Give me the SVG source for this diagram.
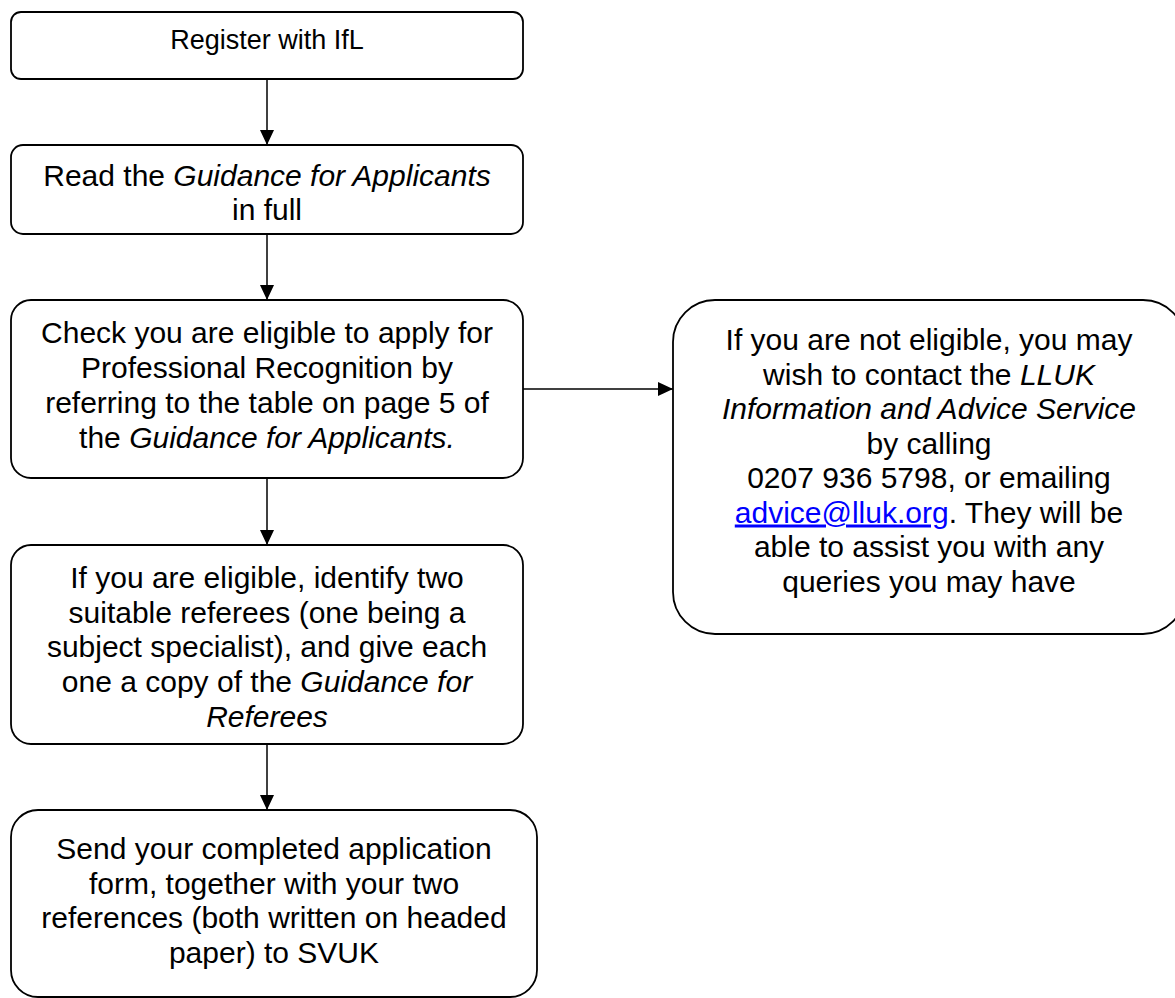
<svg xmlns="http://www.w3.org/2000/svg" width="1175" height="998" viewBox="0 0 1175 998">
  <style>
    .box { fill: #ffffff; stroke: #000000; stroke-width: 1.8; }
    .conn { fill: none; stroke: #000000; stroke-width: 1.5; }
    .t { font-family: "Liberation Sans", Arial, sans-serif; font-size: 30px; fill: #000000; text-anchor: middle; }
    .i { font-style: italic; }
    .link { fill: #0000ff; text-decoration: underline; }
  </style>
  <defs>
    <marker id="arrow" markerUnits="userSpaceOnUse" markerWidth="15" markerHeight="14" refX="15" refY="7" orient="auto">
      <path d="M0,0 L15,7 L0,14 Z" fill="#000000"/>
    </marker>
  </defs>
  <rect width="1175" height="998" fill="#ffffff"/>

  <g id="connectors">
    <line class="conn" x1="267" y1="79" x2="267" y2="145" marker-end="url(#arrow)"/>
    <line class="conn" x1="267" y1="234" x2="267" y2="300" marker-end="url(#arrow)"/>
    <line class="conn" x1="267" y1="478" x2="267" y2="545" marker-end="url(#arrow)"/>
    <line class="conn" x1="267" y1="745" x2="267" y2="810" marker-end="url(#arrow)"/>
    <line class="conn" x1="523" y1="389" x2="673" y2="389" marker-end="url(#arrow)"/>
  </g>

  <g id="register">
    <rect class="box" x="11" y="12" width="512" height="67" rx="10" ry="10"/>
    <text class="t" x="267" y="49.3" style="font-size:27px">Register with IfL</text>
  </g>

  <g id="read-guidance">
    <rect class="box" x="11" y="145" width="512" height="89" rx="12" ry="12"/>
    <text class="t" x="267" y="185.5">Read the <tspan class="i">Guidance for Applicants</tspan></text>
    <text class="t" x="267" y="220.3">in full</text>
  </g>

  <g id="check-eligible">
    <rect class="box" x="11" y="300" width="512" height="178" rx="20" ry="20"/>
    <text class="t" x="267" y="343.3">Check you are eligible to apply for</text>
    <text class="t" x="267" y="378.3">Professional Recognition by</text>
    <text class="t" x="267" y="413.3">referring to the table on page 5 of</text>
    <text class="t" x="267" y="447.5">the <tspan class="i">Guidance for Applicants.</tspan></text>
  </g>

  <g id="identify-referees">
    <rect class="box" x="11" y="545" width="512" height="199" rx="20" ry="20"/>
    <text class="t" x="267" y="588">If you are eligible, identify two</text>
    <text class="t" x="267" y="622.5">suitable referees (one being a</text>
    <text class="t" x="267" y="657">subject specialist), and give each</text>
    <text class="t" x="267" y="691.7">one a copy of the <tspan class="i">Guidance for</tspan></text>
    <text class="t" x="267" y="726.5" font-style="italic">Referees</text>
  </g>

  <g id="send-application">
    <rect class="box" x="11" y="810" width="526" height="187" rx="27" ry="27"/>
    <text class="t" x="274" y="859">Send your completed application</text>
    <text class="t" x="274" y="893.5">form, together with your two</text>
    <text class="t" x="274" y="928">references (both written on headed</text>
    <text class="t" x="274" y="962.5">paper) to SVUK</text>
  </g>

  <g id="not-eligible">
    <rect class="box" x="673" y="300" width="512" height="334" rx="42" ry="42"/>
    <text class="t" x="929" y="350">If you are not eligible, you may</text>
    <text class="t" x="929" y="384.5">wish to contact the <tspan class="i">LLUK</tspan></text>
    <text class="t i" x="929" y="419">Information and Advice Service</text>
    <text class="t" x="929" y="453.5">by calling</text>
    <text class="t" x="929" y="488">0207 936 5798, or emailing</text>
    <text class="t" x="929" y="522.5"><tspan class="link">advice@lluk.org</tspan>. They will be</text>
    <text class="t" x="929" y="557">able to assist you with any</text>
    <text class="t" x="929" y="591.5">queries you may have</text>
  </g>
</svg>
